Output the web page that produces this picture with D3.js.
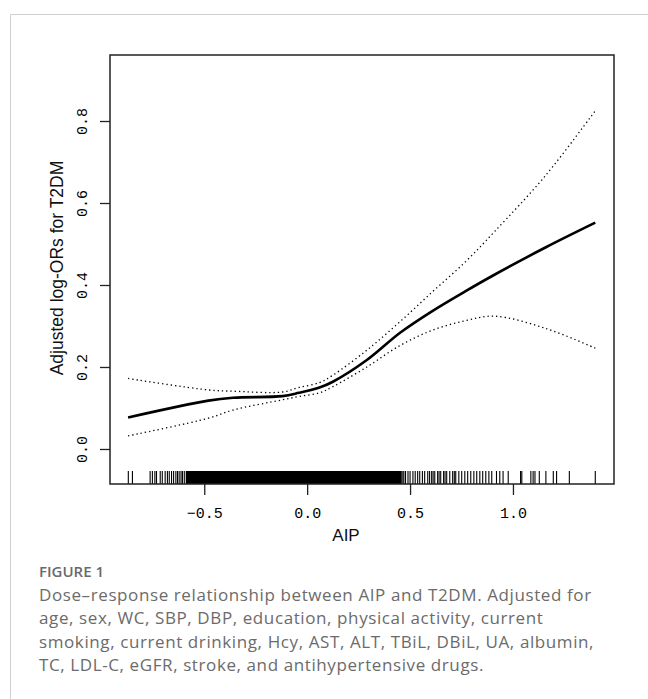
<!DOCTYPE html>
<html>
<head>
<meta charset="utf-8">
<script src="https://cdn.jsdelivr.net/npm/d3@7"></script>
<style>
  html, body { margin: 0; padding: 0; background: #fff; }
  svg { display: block; }
</style>
</head>
<body>
<svg id="chart" width="648" height="699"></svg>
<script>
/* ── Data ─────────────────────────────────────────────────────── */
const aip   = [-0.87, -0.48, -0.36, -0.12, -0.04, 0.06, 0.125, 0.29, 0.45, 0.61, 0.77, 0.91, 1.16, 1.40];
const fit   = [0.077, 0.118, 0.125, 0.129, 0.137, 0.150, 0.164, 0.217, 0.283, 0.337, 0.385, 0.425, 0.492, 0.552];
const upper = [0.172, 0.144, 0.141, 0.139, 0.150, 0.162, 0.180, 0.241, 0.310, 0.384, 0.457, 0.530, 0.668, 0.825];
const lower = [0.032, 0.075, 0.095, 0.120, 0.128, 0.137, 0.152, 0.200, 0.252, 0.290, 0.313, 0.324, 0.294, 0.246];

/* rug: sparse observations at both tails, solid band in between */
const rugTicks = [-0.869, -0.849, -0.763, -0.752, -0.740, -0.732, -0.714, -0.704, -0.690, -0.679,
  -0.670, -0.659, -0.649, -0.638, -0.630, -0.622, -0.613, -0.606, -0.597,
  0.465, 0.470, 0.478, 0.490, 0.500, 0.514, 0.525, 0.537, 0.547, 0.560, 0.571, 0.586, 0.595,
  0.605, 0.612, 0.620, 0.634, 0.641, 0.649, 0.663, 0.670, 0.678, 0.693, 0.707, 0.715, 0.722,
  0.737, 0.751, 0.766, 0.780, 0.795, 0.810, 0.824, 0.839, 0.853, 0.868, 0.883, 0.897,
  0.920, 0.936, 0.952, 0.977, 1.037, 1.043, 1.087, 1.098, 1.107, 1.128, 1.160, 1.196,
  1.212, 1.274, 1.400];
const rugBand = [-0.59, 0.46];

const xTicks = [-0.5, 0.0, 0.5, 1.0];
const yTicks = [0.0, 0.2, 0.4, 0.6, 0.8];

const captionTitle = "FIGURE 1";
const captionLines = [
  "Dose\u2013response relationship between AIP and T2DM. Adjusted for",
  "age, sex, WC, SBP, DBP, education, physical activity, current",
  "smoking, current drinking, Hcy, AST, ALT, TBiL, DBiL, UA, albumin,",
  "TC, LDL-C, eGFR, stroke, and antihypertensive drugs."
];

/* ── Layout ───────────────────────────────────────────────────── */
const box = { left: 110, right: 614, top: 55, bottom: 484 };
const svg = d3.select("#chart");

const x = d3.scaleLinear().domain([-0.958, 1.491]).range([box.left, box.right]);
const y = d3.scaleLinear().domain([-0.0854, 0.961]).range([box.bottom, box.top]);

/* card border (top + left edges only are visible) */
svg.append("path")
  .attr("d", "M10.5,699 V14.5 H648")
  .attr("fill", "none")
  .attr("stroke", "#cfcfcf")
  .attr("stroke-width", 1);

/* ── Curves ───────────────────────────────────────────────────── */
const line = d3.line()
  .x(d => x(d[0]))
  .y(d => y(d[1]))
  .curve(d3.curveCatmullRom.alpha(0.5));

const series = [
  { vals: upper, w: 1.3, dash: "1.3,3" },
  { vals: lower, w: 1.3, dash: "1.3,3" },
  { vals: fit,   w: 2.6, dash: null }
];

svg.append("g").selectAll("path")
  .data(series)
  .enter().append("path")
    .attr("d", s => line(aip.map((a, i) => [a, s.vals[i]])))
    .attr("fill", "none")
    .attr("stroke", "#000")
    .attr("stroke-width", s => s.w)
    .attr("stroke-dasharray", s => s.dash);

/* ── Rug ──────────────────────────────────────────────────────── */
const rugTop = box.bottom - 13;
svg.append("rect")
  .attr("x", x(rugBand[0]))
  .attr("y", rugTop)
  .attr("width", x(rugBand[1]) - x(rugBand[0]))
  .attr("height", box.bottom - rugTop)
  .attr("fill", "#000");

svg.append("g").selectAll("line")
  .data(rugTicks)
  .enter().append("line")
    .attr("x1", d => x(d)).attr("x2", d => x(d))
    .attr("y1", rugTop).attr("y2", box.bottom)
    .attr("stroke", "#000")
    .attr("stroke-width", 1.1);

/* ── Axes (R style: ticks outside, box around plot) ───────────── */
const tickFont = "'Liberation Mono', 'DejaVu Sans Mono', monospace";
const fmt = d => (d < 0 ? "\u2212" : "") + Math.abs(d).toFixed(1);

const xAxis = svg.append("g")
  .attr("transform", `translate(0,${box.bottom})`)
  .call(d3.axisBottom(x).tickValues(xTicks).tickSize(11).tickPadding(12).tickFormat(fmt));
xAxis.select(".domain").remove();

const yAxis = svg.append("g")
  .attr("transform", `translate(${box.left},0)`)
  .call(d3.axisLeft(y).tickValues(yTicks).tickSize(10).tickFormat(fmt));
yAxis.select(".domain").remove();

[xAxis, yAxis].forEach(g => {
  g.selectAll(".tick line").attr("stroke", "#222").attr("stroke-width", 1.3);
  g.selectAll(".tick text")
    .attr("fill", "#000")
    .style("font-family", tickFont)
    .style("font-size", "15px");
});

yAxis.selectAll(".tick text")
  .attr("x", null).attr("dy", null)
  .attr("text-anchor", "middle")
  .attr("transform", "translate(-23,0) rotate(-90)");

svg.append("rect")
  .attr("x", box.left).attr("y", box.top)
  .attr("width", box.right - box.left)
  .attr("height", box.bottom - box.top)
  .attr("fill", "none")
  .attr("stroke", "#222")
  .attr("stroke-width", 1.5);

/* axis titles */
svg.append("text")
  .attr("x", 346).attr("y", 541)
  .attr("text-anchor", "middle")
  .style("font-family", "'Liberation Sans', Arial, sans-serif")
  .style("font-size", "17px")
  .attr("fill", "#111")
  .text("AIP");

svg.append("text")
  .attr("transform", "translate(63,268) rotate(-90)")
  .attr("text-anchor", "middle")
  .style("font-family", "'Liberation Sans', Arial, sans-serif")
  .style("font-size", "17.5px")
  .attr("fill", "#111")
  .text("Adjusted log-ORs for T2DM");

/* ── Caption ──────────────────────────────────────────────────── */
svg.append("text")
  .attr("x", 39).attr("y", 577)
  .style("font-family", "'Open Sans', sans-serif")
  .style("font-size", "15px")
  .style("font-weight", 600)
  .attr("fill", "#6a6a6a")
  .text(captionTitle);

svg.append("g").selectAll("text")
  .data(captionLines)
  .enter().append("text")
    .attr("x", 39)
    .attr("y", (d, i) => 601 + i * 23.3)
    .style("font-family", "'Open Sans', sans-serif")
    .style("font-size", "17px")
    .style("letter-spacing", "0.6px")
    .attr("fill", "#6b6b6b")
    .text(d => d);
</script>
</body>
</html>
